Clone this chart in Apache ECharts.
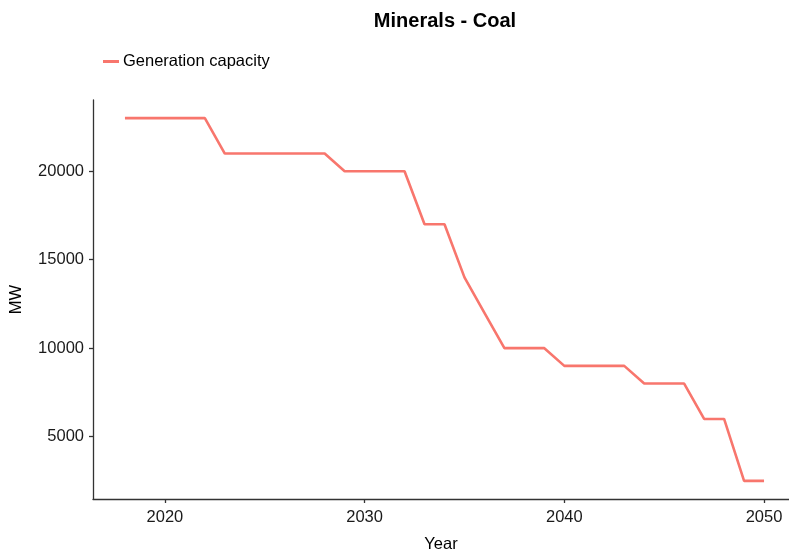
<!DOCTYPE html>
<html><head><meta charset="utf-8">
<script src="https://cdn.jsdelivr.net/npm/echarts@6/dist/echarts.min.js"></script>
<style>html,body{margin:0;padding:0;background:#fff}#c{width:789px;height:558px}</style>
</head><body><div id="c"></div>
<script>
var years = [2018,2019,2020,2021,2022,2023,2024,2025,2026,2027,2028,2029,2030,2031,2032,2033,2034,2035,2036,2037,2038,2039,2040,2041,2042,2043,2044,2045,2046,2047,2048,2049,2050];
var capacity = [23000,23000,23000,23000,23000,21000,21000,21000,21000,21000,21000,20000,20000,20000,20000,17000,17000,14000,12000,10000,10000,10000,9000,9000,9000,9000,8000,8000,8000,6000,6000,2500,2500];
var xTicks = [2020,2030,2040,2050];
var yTicks = [5000,10000,15000,20000];
var seriesName = 'Generation capacity';

var chart = echarts.init(document.getElementById('c'));
var font = 'Liberation Sans, Arial, sans-serif';
chart.setOption({
  animation:false,
  title:{text:'Minerals - Coal',left:440,top:6,textAlign:'center',textStyle:{fontFamily:font,fontSize:20,fontWeight:'bold',color:'#000'}},
  legend:{left:98,top:48,itemWidth:16,itemHeight:3,itemGap:5,icon:'rect',
    textStyle:{fontFamily:font,fontSize:16.5,color:'#000',padding:[0,0,0,-1]},data:[seriesName]},
  grid:{left:90,right:0,top:100,bottom:54,containLabel:false},
  xAxis:{type:'value',min:2016.4,max:2051.25,name:'Year',nameLocation:'middle',nameGap:37,
    nameTextStyle:{fontFamily:font,fontSize:16.5,color:'#000'},
    axisLine:{show:true,lineStyle:{color:'#333',width:1.3}},
    axisTick:{show:true,customValues:xTicks,length:4,lineStyle:{color:'#333',width:1.3}},
    axisLabel:{customValues:xTicks,fontFamily:font,fontSize:16.5,color:'#1a1a1a',margin:10,formatter:function(v){return String(v);}},
    splitLine:{show:false}},
  yAxis:{type:'value',min:1475,max:24025,name:'MW',nameLocation:'middle',nameGap:68,nameRotate:90,
    nameTextStyle:{fontFamily:font,fontSize:16.5,color:'#000'},
    axisLine:{show:true,lineStyle:{color:'#333',width:1.3}},
    axisTick:{show:true,customValues:yTicks,length:4,lineStyle:{color:'#333',width:1.3}},
    axisLabel:{customValues:yTicks,fontFamily:font,fontSize:16.5,color:'#1a1a1a',margin:9,formatter:function(v){return String(v);}},
    splitLine:{show:false}},
  series:[{name:seriesName,type:'line',data:years.map(function(y,i){return [y,capacity[i]];}),
    showSymbol:false,symbol:'none',lineStyle:{color:'#F8766D',width:2.6},itemStyle:{color:'#F8766D'}}]
});
</script></body></html>
